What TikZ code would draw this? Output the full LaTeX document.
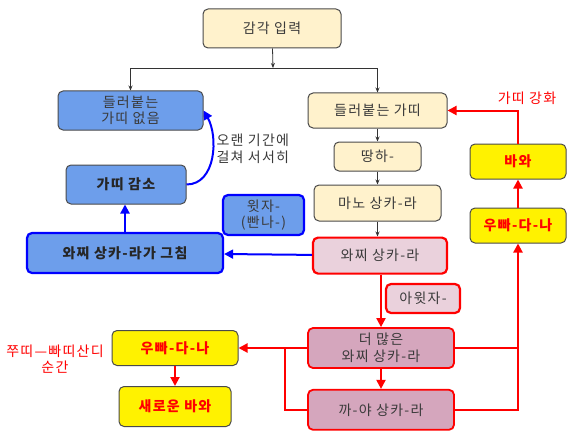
\documentclass[tikz,border=0pt]{standalone}
\usepackage{fontspec}
\setmainfont{Noto Sans CJK KR}[LetterSpace=9]
\usetikzlibrary{positioning,arrows.meta}

\definecolor{creamfill}{HTML}{FFF2CC}
\definecolor{bluefill}{HTML}{6D9EEB}
\definecolor{pinklight}{HTML}{EAD1DC}
\definecolor{pinkdark}{HTML}{D5A6BD}
\definecolor{edgegrey}{HTML}{4A4A4A}
\definecolor{textgrey}{HTML}{3A3A3A}

\begin{document}
\begin{tikzpicture}[x=1pt,y=1pt,
        every node/.style={font=\fontsize{14}{16.5}\selectfont, text=textgrey},
        box/.style={rectangle, rounded corners=5pt, draw=edgegrey, line width=1pt, align=center, inner sep=0pt},
        cream/.style={box, fill=creamfill},
        bluebox/.style={box, fill=bluefill},
        bluethick/.style={bluebox, draw=blue, line width=2.2pt},
        pinklightbox/.style={box, fill=pinklight, draw=red, line width=2.2pt},
        pinkdarkbox/.style={box, fill=pinkdark, draw=red, line width=1.8pt},
        yellowbox/.style={box, fill=yellow, text=red, font=\fontsize{14}{16.5}\selectfont\bfseries},
        thinarrow/.style={draw=black!80, line width=0.8pt, -{Stealth[length=5pt,width=4pt]}},
        redline/.style={draw=red, line width=2pt},
        redarrow/.style={redline, -{Triangle[length=9pt,width=9pt]}},
        bluearrow/.style={draw=blue, line width=2pt, -{Triangle[length=9pt,width=9pt]}}
    ]
    \fill[white] (0,0) rectangle (580,-441);
    \useasboundingbox (0,0) rectangle (580,-441);

    \node[cream, minimum width=138pt, minimum height=39pt] (sense) at (272,-28.5) {감각 입력};
    \node[cream, minimum width=139pt, minimum height=35pt] (sticky) at (377.5,-110.5) {들러붙는 가띠};
    \node[cream, minimum width=87pt, minimum height=29pt, below=13pt of sticky] (tanha) {땅하-};
    \node[cream, minimum width=127pt, minimum height=36pt, below=13pt of tanha] (mano) {마노 상카-라};
    \node[pinklightbox, minimum width=134pt, minimum height=36pt, below=15pt of mano, xshift=2.5pt] (vaci) {와찌 상카-라};
    \node[pinklightbox, minimum width=74pt, minimum height=29pt] (avijja) at (423,-298.5) {아윗자-};
    \node[pinkdarkbox, minimum width=146pt, minimum height=40pt] (morevaci) at (381,-348) {더 많은\\와찌 상카-라};
    \node[pinkdarkbox, minimum width=146pt, minimum height=40pt, below=20pt of morevaci] (kaya) {까-야 상카-라};

    \node[bluebox, minimum width=145pt, minimum height=39pt] (nosticky) at (130.5,-110.5) {들러붙는\\가띠 없음};
    \node[bluebox, minimum width=120pt, minimum height=39pt, font=\fontsize{14}{16.5}\selectfont\bfseries, text=black!85] (decrease) at (126,-184.5) {가띠 감소};
    \node[bluethick, minimum width=196pt, minimum height=40pt, font=\fontsize{14}{16.5}\selectfont\bfseries, text=black!85] (ceases) at (125,-253) {와찌 상카-라가 그침};
    \node[bluethick, minimum width=81pt, minimum height=40pt] (vinnana) at (263.5,-215) {윗자-\\(빤나-)};

    \node[yellowbox, minimum width=96pt, minimum height=35pt] (upadana) at (518,-225.5) {우빠-다-나};
    \node[yellowbox, minimum width=96pt, minimum height=35pt, above=28pt of upadana] (bhava) {바와};
    \node[yellowbox, minimum width=126pt, minimum height=35pt] (upadanab) at (175,-348) {우빠-다-나};
    \node[yellowbox, minimum width=112pt, minimum height=40pt, below=20pt of upadanab] (newbhava) {새로운 바와};

    \node[text=red] (strengthen) at (527,-98) {가띠 강화};
    \node[anchor=west, align=left] (gradual) at (213,-149) {오랜 기간에\\걸쳐 서서히};
    \node[text=red, align=center] (rebirth) at (55,-359) {쭈띠—빠띠산디\\순간};

    \coordinate (split) at (273,-68);
    \coordinate (rjoin) at (morevaci.east -| upadana.south);
    \coordinate (ljoin) at (285,-348);

    \draw[thinarrow] (sense) -- (split);
    \draw[thinarrow] (split) -| (nosticky);
    \draw[thinarrow] (split) -| (sticky);
    \draw[thinarrow] (sticky) -- (tanha);
    \draw[thinarrow] (tanha) -- (mano);
    \draw[thinarrow] (mano.south) -- (mano.south |- vaci.north);

    \draw[bluearrow] (vaci) -- (ceases);
    \draw[bluearrow] (ceases.north) -- (ceases.north |- decrease.south);
    \draw[bluearrow] (decrease.east) to[out=0, in=-60] (nosticky.east);

    \draw[redarrow] (vaci.south -| morevaci.north) -- (morevaci.north);
    \draw[redarrow] (morevaci) -- (kaya);
    \draw[redarrow] (morevaci.east) -- (rjoin) -- (upadana.south);
    \draw[redline] (kaya.east) -| (rjoin);
    \draw[redarrow] (upadana) -- (bhava);
    \draw[redarrow] (bhava.north) |- (sticky.east);
    \draw[redarrow] (morevaci.west) -- (upadanab.east);
    \draw[redline] (kaya.west) -| (ljoin);
    \draw[redarrow] (upadanab) -- (newbhava);
\end{tikzpicture}
\end{document}
